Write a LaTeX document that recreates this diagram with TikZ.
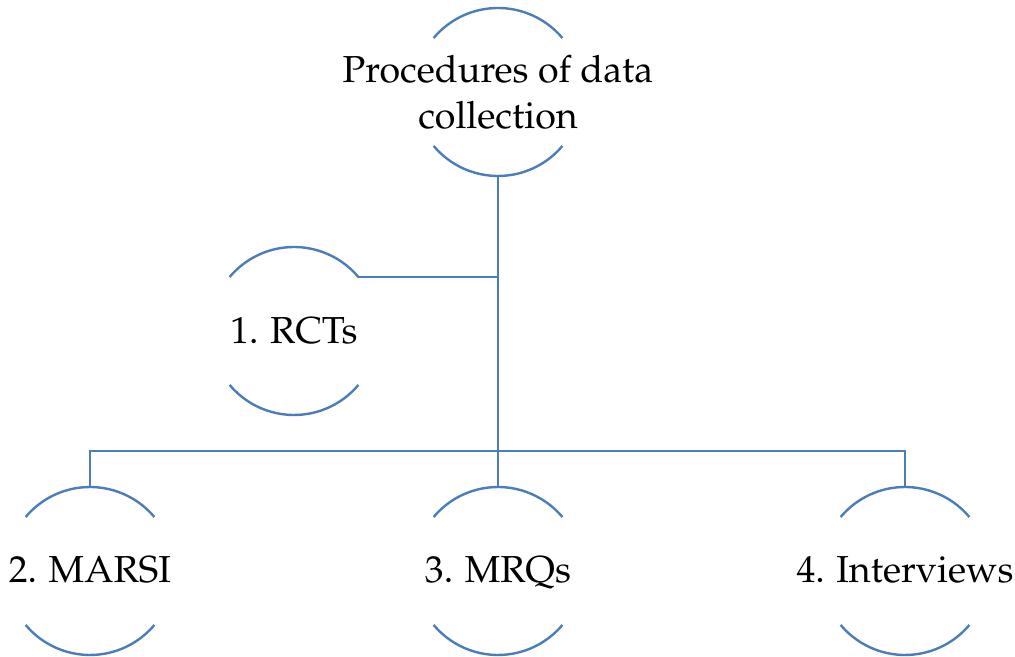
\documentclass[tikz,border=0pt]{standalone}
\usepackage[T1]{fontenc}
\usepackage{mathpazo}
\usetikzlibrary{calc}
\definecolor{linkblue}{RGB}{74,126,187}
\tikzset{
	item/.style={font=\fontsize{18.8}{23}\selectfont, align=center, inner sep=0pt},
	link/.style={draw=linkblue, line width=1.2pt}
}
\newcommand{\openround}[2]{
	\draw[link] ($#2+(40:42pt)$) arc[start angle=40, end angle=140, radius=42pt];
	\draw[link] ($#2+(220:42pt)$) arc[start angle=220, end angle=320, radius=42pt];
	\coordinate (#1-n) at ($#2+(0,42pt)$);
	\coordinate (#1-s) at ($#2+(0,-42pt)$);
	\coordinate (#1-ne) at ($#2+(40:42pt)$);
}

\begin{document}
\begin{tikzpicture}[x=0.5pt,y=0.5pt]
	\useasboundingbox (0,0) rectangle (1015,657);
	\node[item] (proc) at (498,565) {Procedures of data\\collection};
	\node[item, anchor=base] (rct) at (294,313) {1. RCTs};
	\node[item, anchor=base] (marsi) at (90,74) {2. MARSI};
	\node[item, anchor=base] (mrq) at (498,74) {3. MRQs};
	\node[item, anchor=base] (intv) at (905,74) {4. Interviews};
	\coordinate (split) at (498,206);

	\openround{proc}{(498,565)}
	\openround{rct}{(294,326)}
	\openround{marsi}{(90,86)}
	\openround{mrq}{(498,86)}
	\openround{intv}{(905,86)}

	\draw[link] (proc-s) -- (mrq-n);
	\draw[link] (rct-ne) -- (rct-ne -| proc-s);
	\draw[link] (marsi-n) |- (split) -| (intv-n);
\end{tikzpicture}
\end{document}
